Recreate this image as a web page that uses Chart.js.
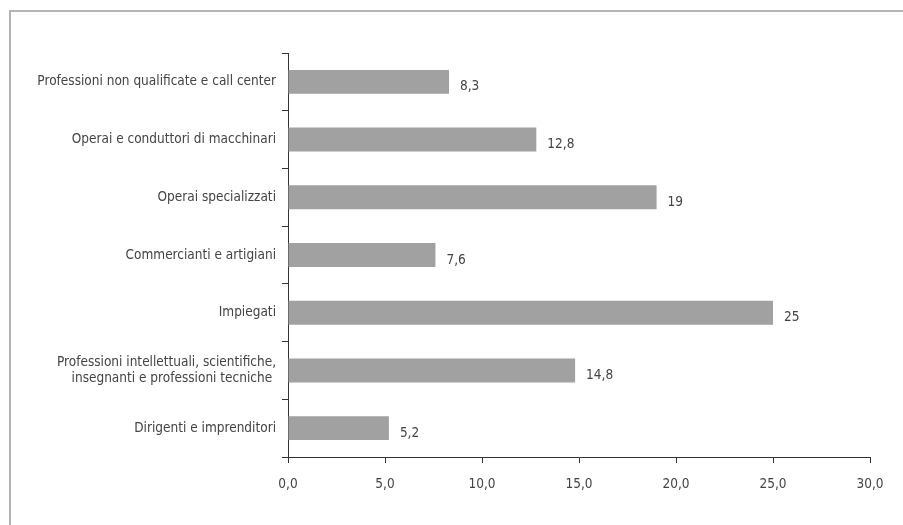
<!DOCTYPE html>
<html>
<head>
<meta charset="utf-8">
<script src="https://cdn.jsdelivr.net/npm/chart.js@4/dist/chart.umd.min.js"></script>
<style>
    html, body { margin: 0; padding: 0; background: #fff; }
    #wrap { width: 903px; height: 525px; position: relative; }
</style>
</head>
<body>
<div id="wrap"><canvas id="occupationChart"></canvas></div>
<script>
// Categorie (dall'alto verso il basso) e valori percentuali
const categories = [
    'Professioni non qualificate e call center',
    'Operai e conduttori di macchinari',
    'Operai specializzati',
    'Commercianti e artigiani',
    'Impiegati',
    ['Professioni intellettuali, scientifiche,', 'insegnanti e professioni tecniche '],
    'Dirigenti e imprenditori'
];
const values = [8.3, 12.8, 19, 7.6, 25, 14.8, 5.2];
const xTicks = [0, 5, 10, 15, 20, 25, 30];

const FONT = '"Liberation Sans Narrow", "DejaVu Sans Condensed", sans-serif';
const TEXT = '#444444';
const AXIS = '#333333';

function virgola(v, dec) {
    return (dec === undefined ? String(v) : v.toFixed(dec)).replace('.', ',');
}

// Cornice grigia in alto e a sinistra
const framePlugin = {
    id: 'frame',
    beforeDraw(chart) {
        const ctx = chart.ctx;
        ctx.save();
        ctx.strokeStyle = '#b4b4b4';
        ctx.lineWidth = 2;
        ctx.beginPath();
        ctx.moveTo(10, chart.height);
        ctx.lineTo(10, 11);
        ctx.lineTo(chart.width, 11);
        ctx.stroke();
        ctx.restore();
    }
};

// Etichette dei valori a destra delle barre
const valueLabels = {
    id: 'valueLabels',
    afterDatasetsDraw(chart) {
        const ctx = chart.ctx;
        const meta = chart.getDatasetMeta(0);
        ctx.save();
        ctx.font = '13.5px ' + FONT;
        ctx.fillStyle = TEXT;
        ctx.textAlign = 'left';
        ctx.textBaseline = 'middle';
        meta.data.forEach((bar, i) => {
            ctx.fillText(virgola(values[i]), bar.x + 11, bar.y + 5);
        });
        ctx.restore();
    }
};

new Chart(document.getElementById('occupationChart'), {
    type: 'bar',
    data: {
        labels: categories,
        datasets: [{
            data: values,
            backgroundColor: '#a0a1a0',
            borderWidth: 0,
            categoryPercentage: 1,
            barPercentage: 0.415
        }]
    },
    options: {
        indexAxis: 'y',
        responsive: true,
        maintainAspectRatio: false,
        animation: false,
        layout: { padding: { left: 0, top: 53, right: 33, bottom: 28 } },
        plugins: {
            legend: { display: false },
            tooltip: { enabled: false }
        },
        scales: {
            x: {
                min: 0,
                max: 30,
                afterBuildTicks(scale) {
                    scale.ticks = xTicks.map(v => ({ value: v }));
                },
                afterFit(scale) { scale.height = 40; },
                grid: { drawOnChartArea: false, tickLength: 6, color: AXIS },
                border: { color: AXIS, width: 1 },
                ticks: {
                    font: { family: FONT, size: 13.5 },
                    color: TEXT,
                    padding: 13,
                    callback: v => virgola(v, 1)
                }
            },
            y: {
                afterFit(scale) { scale.width = 288; },
                grid: { drawOnChartArea: false, offset: true, tickLength: 6, color: AXIS },
                border: { color: AXIS, width: 1 },
                ticks: {
                    font: { family: FONT, size: 13.5, lineHeight: 1.15 },
                    color: TEXT,
                    padding: 6
                }
            }
        }
    },
    plugins: [framePlugin, valueLabels]
});
</script>
</body>
</html>
